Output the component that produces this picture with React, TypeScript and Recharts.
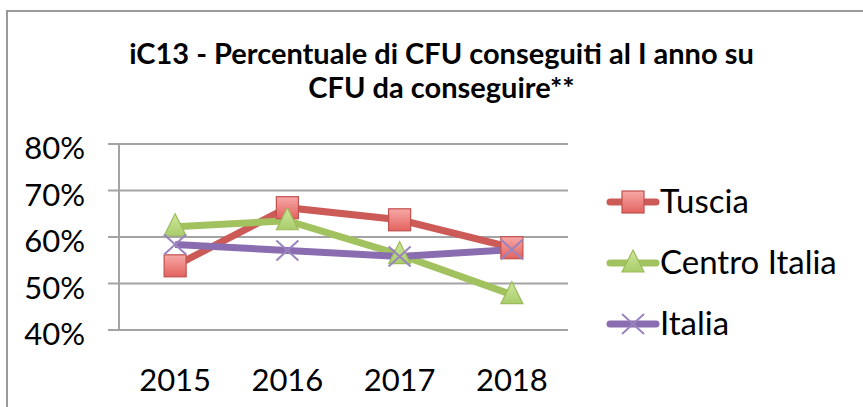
import React from "react";
import { LineChart, Line, XAxis, YAxis, CartesianGrid } from "recharts";

const years = ["2015", "2016", "2017", "2018"];
const tuscia = [53.8, 66.3, 63.7, 57.7];
const centroItalia = [62.2, 63.5, 56.2, 47.6];
const italia = [58.4, 57.1, 55.8, 57.3];
const yTicks = [40, 50, 60, 70, 80];
const bandEdges = [0, 1, 2, 3, 4];
const bandCenters = [0.5, 1.5, 2.5, 3.5];

const FONT = "Lato, 'Open Sans', sans-serif";
const GRID = "#a3a3a3";
const RED = "#cc5b58";
const GREEN = "#a2c260";
const PURPLE = "#8a6db0";

const data = years.map((year, i) => ({
  year,
  pos: i + 0.5,
  tuscia: tuscia[i],
  centro: centroItalia[i],
  italia: italia[i],
}));

function SquareDot({ cx, cy }: any) {
  if (cx == null || cy == null) return null;
  return (
    <rect
      x={cx - 11}
      y={cy - 11}
      width={22}
      height={22}
      fill="url(#sqFill)"
      stroke="#c0504d"
      strokeWidth={1.2}
    />
  );
}

function TriangleDot({ cx, cy }: any) {
  if (cx == null || cy == null) return null;
  return (
    <path
      d={`M${cx},${cy - 13} L${cx + 11},${cy + 9} L${cx - 11},${cy + 9} Z`}
      fill="url(#triFill)"
      stroke="#9bbb59"
      strokeWidth={1.2}
    />
  );
}

function CrossDot({ cx, cy }: any) {
  if (cx == null || cy == null) return null;
  return (
    <g stroke="#9a84bd" strokeWidth={2}>
      <line x1={cx - 11} y1={cy - 10} x2={cx + 11} y2={cy + 10} />
      <line x1={cx - 11} y1={cy + 10} x2={cx + 11} y2={cy - 10} />
    </g>
  );
}

function YTick({ x, y, payload }: any) {
  return (
    <text x={x} y={y + 15} textAnchor="end" fontSize={31} fontFamily={FONT} fill="#000">
      {`${payload.value}%`}
    </text>
  );
}

const legendItems = [
  { name: "Tuscia", color: RED, Dot: SquareDot },
  { name: "Centro Italia", color: GREEN, Dot: TriangleDot },
  { name: "Italia", color: PURPLE, Dot: CrossDot },
];

export default function App() {
  return (
    <div
      style={{
        position: "absolute",
        left: 0,
        top: 0,
        width: 863,
        height: 407,
        overflow: "hidden",
        background: "#fff",
        fontFamily: FONT,
      }}
    >
      <div
        style={{
          position: "absolute",
          left: 6,
          top: 10,
          width: 900,
          height: 450,
          border: "2px solid #9a9a9a",
        }}
      />
      <div
        style={{
          position: "absolute",
          left: 0,
          top: 36,
          width: 883,
          textAlign: "center",
          fontWeight: 700,
          fontSize: 29,
          lineHeight: "34px",
          color: "#000",
        }}
      >
        iC13 - Percentuale di CFU conseguiti al I anno su
        <br />
        CFU da conseguire**
      </div>

      <div style={{ position: "absolute", left: 0, top: 0 }}>
        <LineChart
          width={863}
          height={407}
          data={data}
          margin={{ top: 144, right: 295, bottom: 6, left: 29 }}
        >
          <defs>
            <linearGradient id="sqFill" x1="0" y1="0" x2="0" y2="1">
              <stop offset="0%" stopColor="#f7a9a7" />
              <stop offset="100%" stopColor="#e2625f" />
            </linearGradient>
            <linearGradient id="triFill" x1="0" y1="0" x2="0" y2="1">
              <stop offset="0%" stopColor="#cfe89e" />
              <stop offset="100%" stopColor="#a9cc6a" />
            </linearGradient>
          </defs>
          <CartesianGrid vertical={false} stroke={GRID} strokeWidth={2} />
          <XAxis
            xAxisId="edges"
            dataKey="pos"
            type="number"
            domain={[0, 4]}
            ticks={bandEdges}
            tick={false}
            tickSize={11}
            height={11}
            axisLine={{ stroke: GRID, strokeWidth: 2 }}
            tickLine={{ stroke: GRID, strokeWidth: 2 }}
          />
          <XAxis
            xAxisId="labels"
            dataKey="pos"
            type="number"
            domain={[0, 4]}
            ticks={bandCenters}
            tickFormatter={(v: number) => years[Math.floor(v)]}
            axisLine={false}
            tickLine={false}
            tickSize={0}
            tickMargin={28}
            height={60}
            tick={{ fontSize: 31, fontFamily: FONT, fill: "#000" }}
          />
          <YAxis
            domain={[40, 80]}
            ticks={yTicks}
            width={90}
            tickSize={11}
            tickMargin={23}
            axisLine={{ stroke: GRID, strokeWidth: 2 }}
            tickLine={{ stroke: GRID, strokeWidth: 2 }}
            tick={<YTick />}
            interval={0}
          />
          <Line
            xAxisId="edges"
            dataKey="tuscia"
            stroke={RED}
            strokeWidth={7}
            dot={<SquareDot />}
            isAnimationActive={false}
          />
          <Line
            xAxisId="edges"
            dataKey="centro"
            stroke={GREEN}
            strokeWidth={7}
            dot={<TriangleDot />}
            isAnimationActive={false}
          />
          <Line
            xAxisId="edges"
            dataKey="italia"
            stroke={PURPLE}
            strokeWidth={7}
            dot={<CrossDot />}
            isAnimationActive={false}
          />
        </LineChart>
      </div>

      <svg
        width={863}
        height={407}
        style={{ position: "absolute", left: 0, top: 0, pointerEvents: "none" }}
      >
        {legendItems.map((item, i) => {
          const cy = 202 + i * 61;
          const Dot = item.Dot;
          return (
            <g key={item.name}>
              <line
                x1={610}
                y1={cy}
                x2={656}
                y2={cy}
                stroke={item.color}
                strokeWidth={7}
                strokeLinecap="round"
              />
              <Dot cx={633} cy={cy} />
              <text x={660} y={cy + 11} fontSize={33} fontFamily={FONT} fill="#000">
                {item.name}
              </text>
            </g>
          );
        })}
      </svg>
    </div>
  );
}
